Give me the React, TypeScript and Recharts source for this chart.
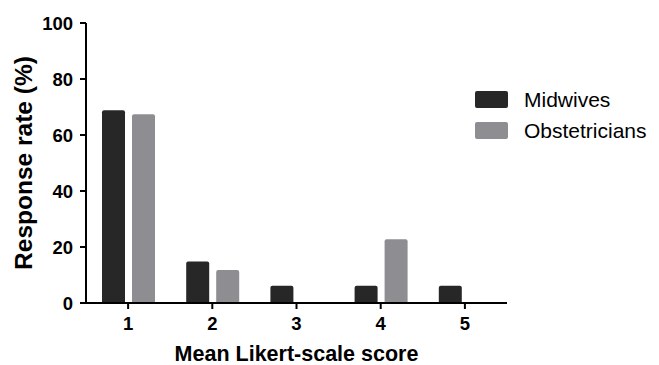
import { Bar, BarChart, Legend, XAxis, YAxis } from "recharts";

const scores = ["1", "2", "3", "4", "5"];
const midwives = [68.8, 14.8, 6.2, 6.2, 6.2];
const obstetricians = [67.4, 11.8, 0, 22.8, 0];
const yTicks = [0, 20, 40, 60, 80, 100];

const data = scores.map((score, i) => ({
  score,
  midwives: midwives[i],
  obstetricians: obstetricians[i],
}));

const font = "'Liberation Sans', Arial, sans-serif";
const tickStyle = { fill: "#000", fontSize: 18.5, fontWeight: 700, fontFamily: font };

function LegendBox({ payload }: any) {
  return (
    <div style={{ fontFamily: font }}>
      {(payload || []).map((item: any) => (
        <div key={item.value} style={{ display: "flex", alignItems: "center", height: 31 }}>
          <span
            style={{
              display: "inline-block",
              width: 33,
              height: 17,
              background: item.color,
              borderRadius: 2,
              marginRight: 16,
            }}
          />
          <span style={{ fontSize: 21, color: "#000" }}>{item.value}</span>
        </div>
      ))}
    </div>
  );
}

export default function App() {
  return (
    <div style={{ position: "absolute", left: 0, top: 0, background: "#fff" }}>
      <BarChart
        width={659}
        height={365}
        data={data}
        margin={{ top: 23, right: 152, left: 0, bottom: 30 }}
        barSize={23}
        barGap={7}
      >
        <XAxis
          dataKey="score"
          height={32}
          axisLine={{ stroke: "#000", strokeWidth: 2 }}
          tickLine={{ stroke: "#000", strokeWidth: 2 }}
          tickSize={6}
          tickMargin={8}
          tick={tickStyle}
          label={{
            value: "Mean Likert-scale score",
            position: "insideBottom",
            offset: -26,
            style: { fill: "#000", fontSize: 21.5, fontWeight: 700, fontFamily: font },
          }}
        />
        <YAxis
          width={86}
          domain={[0, 100]}
          ticks={yTicks}
          axisLine={{ stroke: "#000", strokeWidth: 2 }}
          tickLine={{ stroke: "#000", strokeWidth: 2 }}
          tickSize={6}
          tickMargin={7}
          tick={tickStyle}
          label={{
            value: "Response rate (%)",
            angle: -90,
            position: "insideLeft",
            offset: 23,
            style: { textAnchor: "middle", fill: "#000", fontSize: 24.5, fontWeight: 700, fontFamily: font },
          }}
        />
        <Legend
          layout="vertical"
          verticalAlign="middle"
          align="center"
          content={LegendBox}
          wrapperStyle={{ left: 475, top: 84, width: 184, bottom: "auto", right: "auto" }}
        />
        <Bar dataKey="midwives" name="Midwives" fill="#272727" radius={[2, 2, 0, 0]} isAnimationActive={false} />
        <Bar dataKey="obstetricians" name="Obstetricians" fill="#8e8e92" radius={[2, 2, 0, 0]} isAnimationActive={false} />
      </BarChart>
    </div>
  );
}
